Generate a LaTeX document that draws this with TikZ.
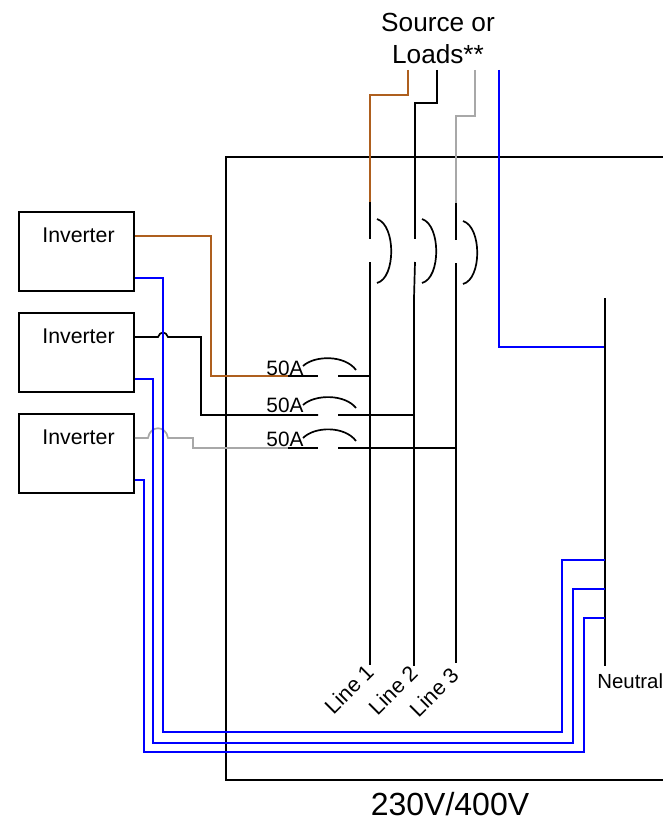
\documentclass[tikz,border=0pt]{standalone}
\usepackage{fontspec}
\setmainfont{Liberation Sans}
\usepackage{xcolor}
\usepackage{tikz}
\usetikzlibrary{calc, positioning}
\definecolor{wirebrown}{HTML}{AE5F1E}
\definecolor{wiregray}{HTML}{A8A8A8}
\tikzset{
	inverter/.style={draw, minimum width=115pt, minimum height=79pt, inner sep=0pt},
	invtext/.style={font=\fontsize{21.3}{24}\selectfont, xshift=2pt, yshift=-36pt},
	wire/.style={line width=1.7pt},
	brownwire/.style={wire, wirebrown},
	graywire/.style={wire, wiregray},
	bluewire/.style={wire, blue},
	blackwire/.style={wire, black},
	amps/.style={font=\fontsize{20.8}{24}\selectfont, inner sep=0pt},
	linetext/.style={font=\fontsize{21.5}{24}\selectfont, rotate=45, inner sep=0pt}
}

\begin{document}
\begin{tikzpicture}[x=1pt, y=-1pt, line width=1.7pt]
	\useasboundingbox (0,0) rectangle (663,821);

	\node[inverter, label={[invtext]north:Inverter}] (Inv1) at (76.5,251.5) {};
	\node[inverter, label={[invtext]north:Inverter}] (Inv2) at (76.5,352.5) {};
	\node[inverter, label={[invtext]north:Inverter}] (Inv3) at (76.5,453.5) {};

	\coordinate (PanelTR) at (663,157);
	\coordinate (PanelBR) at (663,780);
	\draw (PanelTR) -- (226,157) -- (226,780) -- (PanelBR);

	\node[align=center, inner sep=0pt, font=\fontsize{26.2}{32}\selectfont] (Source) at (438,38) {Source or\\Loads**};
	\node[inner sep=0pt, font=\fontsize{32}{36}\selectfont] (Voltage) at (450,804) {230V/400V};

	% incoming wires
	\coordinate (S1) at (408,70);
	\coordinate (S2) at (437,70);
	\coordinate (S3) at (475,70);
	\coordinate (SN) at (499,70);
	\coordinate (B1top) at (370,202);
	\coordinate (B2top) at (415,202);
	\coordinate (B3top) at (456,203);
	\coordinate (L1top) at (370,298);
	\coordinate (L2top) at (414,298);
	\coordinate (L3top) at (456,298);
	\coordinate (L1end) at (370,665);
	\coordinate (L2end) at (414,666);
	\coordinate (L3end) at (456,663);
	\coordinate (Ntop) at (605,298);
	\coordinate (Nend) at (605,666);

	\draw[brownwire] (S1) -- (408,95) -- (370,95) -- (B1top);
	\draw[blackwire] (S2) -- (437,103) -- (415,103) -- (B2top);
	\draw[graywire] (S3) -- (475,116) -- (456,116) -- (B3top);
	\draw[bluewire] (SN) -- (499,347) -- (Ntop |- 0,347);

	% main breakers
	\draw (B1top) -- (370,239);
	\draw (370,262) -- (L1top);
	\draw (377,219) .. controls (396,225) and (396,278) .. (377,283);
	\draw (B2top) -- (415,239);
	\draw (415,262) -- (L2top);
	\draw (422,219) .. controls (441,225) and (441,278) .. (422,283);
	\draw (B3top) -- (456,240);
	\draw (456,263) -- (L3top);
	\draw (463,221) .. controls (482,227) and (482,279) .. (463,284);

	% bars
	\draw (L1top) -- (L1end);
	\draw (L2top) -- (L2end);
	\draw (L3top) -- (L3end);
	\draw (Ntop) -- (Nend);

	\node[linetext] (L1text) at (349,689) {Line 1};
	\node[linetext] (L2text) at (393,690) {Line 2};
	\node[linetext] (L3text) at (434,692) {Line 3};
	\node[amps, anchor=west, font=\fontsize{20.4}{24}\selectfont] (Ntext) at (596.5,681) {Neutral};

	% inverter wires
	\draw[brownwire] ([yshift=15.5pt]Inv1.east) -- (211,236) -- (211,376) -- (288,376);
	\draw[blackwire] ([yshift=15.5pt]Inv2.east) -- (158,337) .. controls (160,331) and (166,331) .. (168,337)
		-- (201,337) -- (201,415) -- (318,415);
	\draw[graywire] ([yshift=15.5pt]Inv3.east) -- (148,438) .. controls (150,425) and (166,425) .. (168,438)
		-- (193,438) -- (193,448) -- (288,448);

	\draw[bluewire] ([yshift=-26.5pt]Inv1.east) -- (163,278) -- (163,732) -- (562,732) -- (562,560) -- (Ntop |- 0,560);
	\draw[bluewire] ([yshift=-26.5pt]Inv2.east) -- (153,379) -- (153,743) -- (573,743) -- (573,589) -- (Ntop |- 0,589);
	\draw[bluewire] ([yshift=-26.5pt]Inv3.east) -- (144,480) -- (144,752) -- (584,752) -- (584,618) -- (Ntop |- 0,618);

	% branch breakers
	\draw (288,376) -- (318,376);
	\draw (338,376) -- (L1top |- 0,376);
	\draw (303,366) .. controls (315,355) and (345,355) .. (356,370);
	\draw (338,415) -- (L2top |- 0,415);
	\draw (303,405) .. controls (315,394) and (345,394) .. (356,408);
	\draw (288,448) -- (318,448);
	\draw (338,448) -- (L3top |- 0,448);
	\draw (303,438) .. controls (315,426) and (345,426) .. (356,441);

	\node[amps] (A1) at (285,368) {50A};
	\node[amps] (A2) at (285,405) {50A};
	\node[amps] (A3) at (285,439) {50A};
\end{tikzpicture}
\end{document}
